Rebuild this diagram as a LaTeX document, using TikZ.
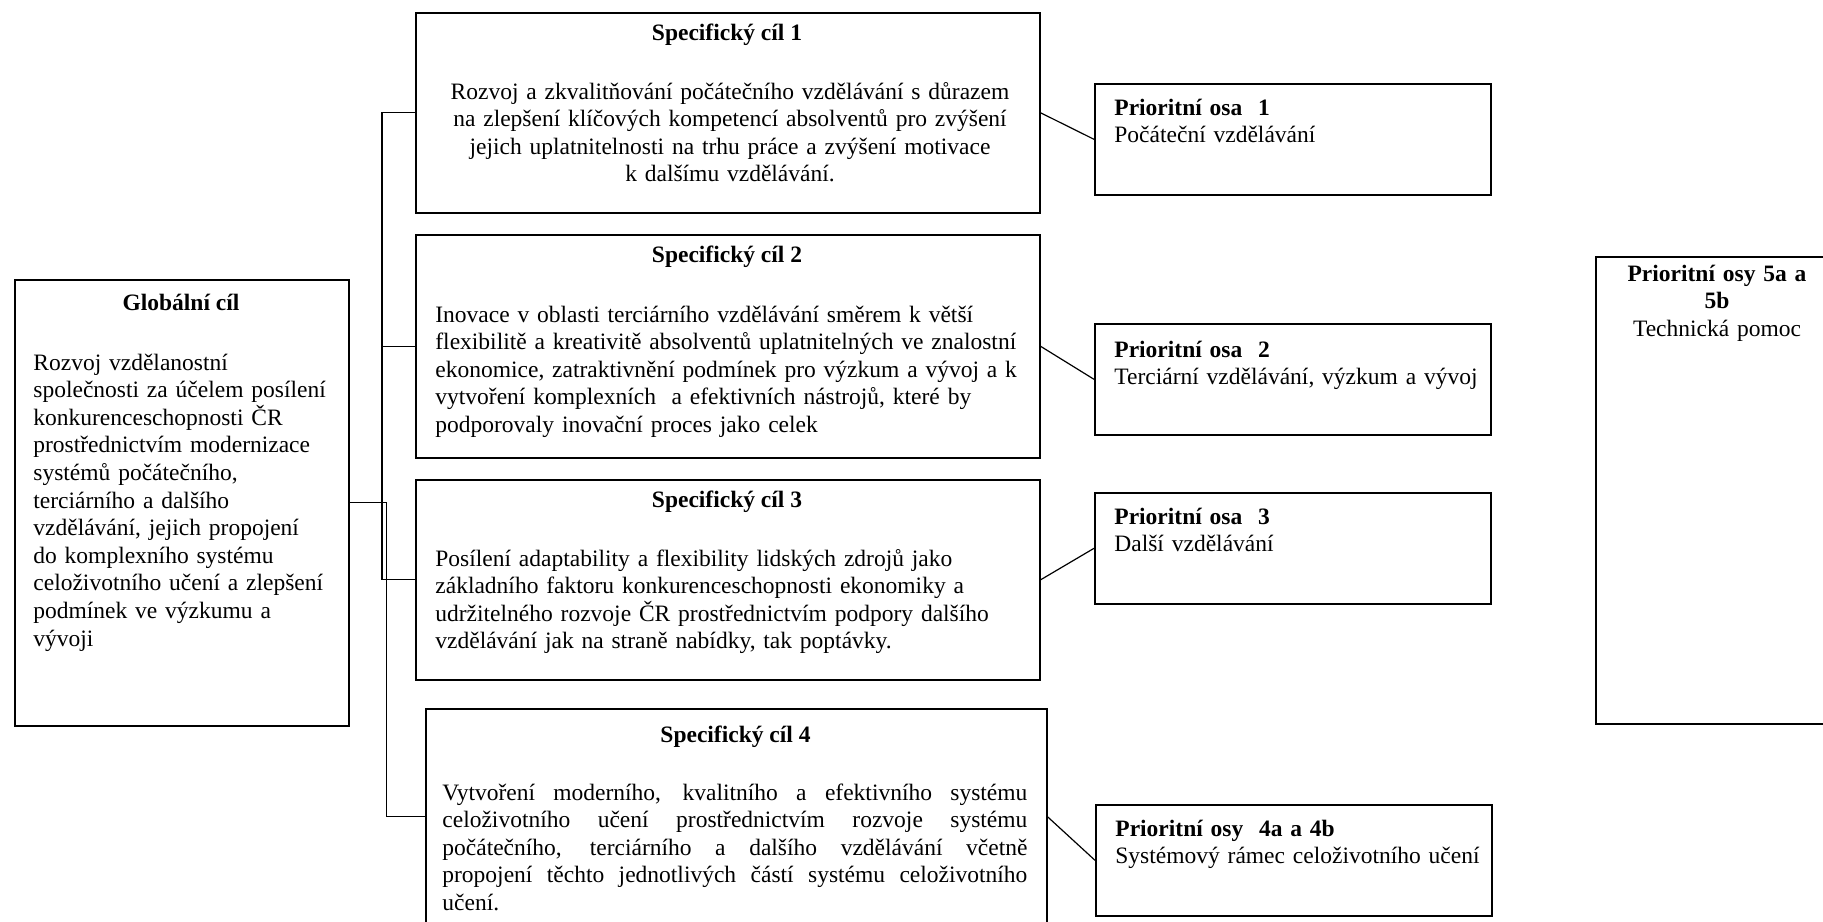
\documentclass[tikz,border=0pt]{standalone}
\usepackage{fontspec}
\setmainfont{Liberation Serif}
\usetikzlibrary{calc,positioning}
\tikzset{
  % box styles (boxes placed by their top left corner)
  box/.style={draw,line width=0.8pt,inner sep=0pt,anchor=north west},
  % text styles
  head/.style={font=\bfseries,inner sep=0pt,anchor=base},
  txt/.style={inner sep=0pt,anchor=base west,align=left,text width=#1},
  txt/.default=300pt,
  ctxt/.style={inner sep=0pt,anchor=base,align=center,text width=#1},
  ctxt/.default=310pt,
  jtxt/.style={inner sep=0pt,anchor=base west,align=justify,text width=#1},
  % connector lines
  link/.style={line width=0.6pt},
}

\begin{document}
\fontsize{11.75pt}{13.8pt}\selectfont
\tolerance=10000 \hbadness=10000
\begin{tikzpicture}[x=0.5pt,y=-0.5pt]
  \clip (0,0) rectangle (1823,921);
  % global goal
  \node[box,minimum width=167pt,minimum height=223pt] (glob) at (14,279) {};
  \node[head] (globhead) at (181,310) {Globální cíl};
  \node[txt=165pt] (globtext) at (33,370) {Rozvoj vzdělanostní\\ společnosti za účelem posílení\\ konkurenceschopnosti ČR\\ prostřednictvím modernizace\\ systémů počátečního,\\ terciárního a dalšího\\ vzdělávání, jejich propojení\\ do komplexního systému\\ celoživotního učení a zlepšení\\ podmínek ve výzkumu a\\ vývoji};
  % specific goals
  \node[box,minimum width=312pt,minimum height=100pt] (spec1) at (415,12) {};
  \node[head] (spec1head) at (727,40) {Specifický cíl 1};
  \node[ctxt] (spec1text) at (730,99) {Rozvoj a zkvalitňování počátečního vzdělávání s důrazem\\ na zlepšení klíčových kompetencí absolventů pro zvýšení\\ jejich uplatnitelnosti na trhu práce a zvýšení motivace\\ k dalšímu vzdělávání.};
  \node[box,minimum width=312pt,minimum height=111.5pt] (spec2) at (415,234) {};
  \node[head] (spec2head) at (727,262) {Specifický cíl 2};
  \node[txt] (spec2text) at (435,322) {Inovace v oblasti terciárního vzdělávání směrem k větší\\ flexibilitě a kreativitě absolventů uplatnitelných ve znalostní\\ ekonomice, zatraktivnění podmínek pro výzkum a vývoj a k\\ vytvoření komplexních\ \ a efektivních nástrojů, které by\\ podporovaly inovační proces jako celek};
  \node[box,minimum width=312pt,minimum height=100pt] (spec3) at (415,479) {};
  \node[head] (spec3head) at (727,507) {Specifický cíl 3};
  \node[txt] (spec3text) at (435,566) {Posílení adaptability a flexibility lidských zdrojů jako\\ základního faktoru konkurenceschopnosti ekonomiky a\\ udržitelného rozvoje ČR prostřednictvím podpory dalšího\\ vzdělávání jak na straně nabídky, tak poptávky.};
  \node[box,minimum width=310.5pt,minimum height=108pt] (spec4) at (425,708) {};
  \node[head] (spec4head) at (735.5,742) {Specifický cíl 4};
  \node[jtxt=292.5pt] (spec4text) at (442,800) {Vytvoření moderního, kvalitního a efektivního systému\linebreak celoživotního učení prostřednictvím rozvoje systému\linebreak počátečního, terciárního a dalšího vzdělávání včetně\linebreak propojení těchto jednotlivých částí systému celoživotního\linebreak učení.};
  % priority axes
  \node[box,minimum width=198pt,minimum height=55.5pt] (osa1) at (1094,83) {};
  \node[txt=195pt] (osa1text) at (1114,115) {\textbf{Prioritní osa\ \ 1}\\ Počáteční vzdělávání};
  \node[box,minimum width=198pt,minimum height=55.5pt] (osa2) at (1094,323) {};
  \node[txt=195pt] (osa2text) at (1114,357) {\textbf{Prioritní osa\ \ 2}\\ Terciární vzdělávání, výzkum a vývoj};
  \node[box,minimum width=198pt,minimum height=55.5pt] (osa3) at (1094,492) {};
  \node[txt=195pt] (osa3text) at (1114,524) {\textbf{Prioritní osa\ \ 3}\\ Další vzdělávání};
  \node[box,minimum width=198pt,minimum height=55.5pt] (osa4) at (1095,804) {};
  \node[txt=195pt] (osa4text) at (1115,836) {\textbf{Prioritní osy\ \ 4a a 4b}\\ Systémový rámec celoživotního učení};
  \node[box,minimum width=122pt,minimum height=233.5pt] (osa5) at (1595,256) {};
  \node[ctxt=120pt] (osa5text) at (1717,281) {{\bfseries Prioritní osy 5a a}\\ {\bfseries 5b}\\ Technická pomoc};
  % tree from the global goal
  \draw[link] (spec1.west) -- ++(-33,0) coordinate (trunk) |- (spec3.west);
  \draw[link] (spec2.west) -- (spec2.west -| trunk);
  \draw[link] (glob.east) -- ++(37,0) |- (spec4.west);
  \foreach \i in {1,...,4}
    \draw[link] (spec\i.east) -- (osa\i.west);
\end{tikzpicture}
\end{document}
